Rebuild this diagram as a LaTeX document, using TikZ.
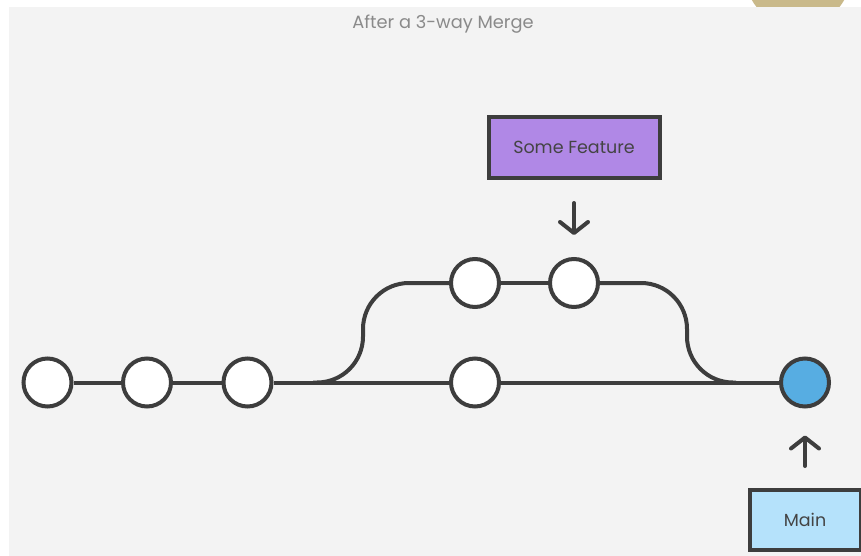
\documentclass[tikz,border=0pt]{standalone}
\usepackage{fontspec}
\setmainfont{Poppins}
\usepackage{tikz}
\usetikzlibrary{arrows.meta, calc, positioning}

\definecolor{panel}{HTML}{F3F3F3}
\definecolor{ink}{HTML}{3D3D3D}
\definecolor{titlegray}{HTML}{8A8A8A}
\definecolor{labeltext}{HTML}{444444}
\definecolor{featurefill}{HTML}{B088E6}
\definecolor{mainfill}{HTML}{B5E2FB}
\definecolor{mergefill}{HTML}{57ADE2}
\definecolor{tanshape}{HTML}{C9B98A}

\begin{document}
\begin{tikzpicture}[x=1pt, y=-1pt, >=Latex,
    commit/.style={circle, draw=ink, line width=4pt, fill=white, minimum size=48pt, inner sep=0pt},
    branch/.style={draw=ink, line width=4pt, rounded corners=46pt},
    labelbox/.style={rectangle, draw=ink, line width=4pt, inner sep=0pt, text=labeltext, font=\fontsize{17.5}{20}\selectfont},
    pointer/.style={draw=ink, line width=4pt, line cap=round, -{Straight Barb[length=11pt, width=28pt, line cap=round, line join=round]}}]
        % 背景
        \useasboundingbox (0,0) rectangle (861,556);
        \fill[white] (0,0) rectangle (861,556);
        \begin{scope}
            \clip (0,0) rectangle (861,556);
            \fill[tanshape] (798,-26) circle (53pt);
        \end{scope}
        \fill[panel] (9,7.5) rectangle (861,556);

        % タイトル
        \node[text=titlegray, font=\fontsize{17.8}{20}\selectfont] (title) at (443,24) {After a 3-way Merge};

        % コミット (main)
        \node[commit] (c1) at (47.5,382.5) {};
        \node[commit] (c2) at (147,382.5) {};
        \node[commit] (c3) at (247.5,382.5) {};
        \node[commit] (m4) at (475,382.5) {};
        \node[commit, fill=mergefill] (merge) at (805,382.5) {};

        % コミット (feature)
        \node[commit] (f1) at (475,283) {};
        \node[commit] (f2) at (574,283) {};

        % 分岐と合流の点
        \coordinate (fork) at (313,382.5);
        \coordinate (join) at (736,382.5);

        % 線
        \draw[branch] (c1) -- (c2);
        \draw[branch] (c2) -- (c3);
        \draw[branch] (c3) -- (m4);
        \draw[branch] (m4) -- (merge);
        \draw[branch] (fork) -- ++(50,0) |- (f1);
        \draw[branch] (f1) -- (f2);
        \draw[branch] (f2) -| ($(join)+(-49,0)$) -- (join);

        % ラベル
        \node[labelbox, fill=featurefill, minimum width=171pt, minimum height=61pt] (feature) at (574,147.5) {Some Feature};
        \node[labelbox, fill=mainfill, minimum width=111pt, minimum height=60pt] (main) at (805,520) {Main};

        % 矢印
        \draw[pointer, shorten <=23pt, shorten >=22pt] (feature) -- (f2);
        \draw[pointer, shorten <=22pt, shorten >=27pt] (main) -- (merge);
    \end{tikzpicture}
\end{document}
